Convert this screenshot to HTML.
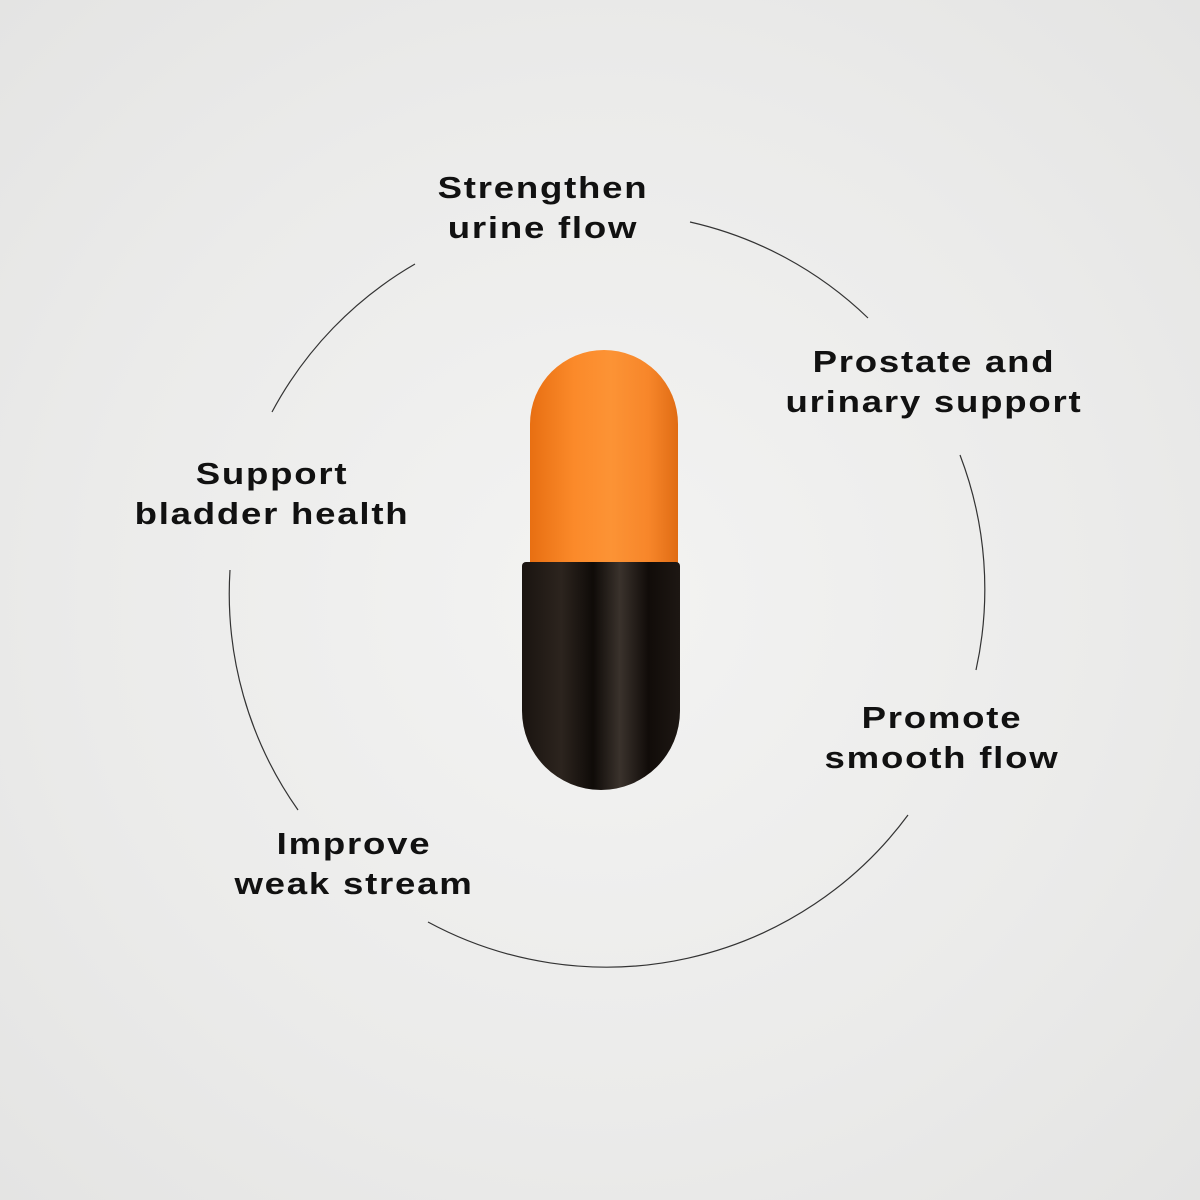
<!DOCTYPE html>
<html><head><meta charset="utf-8"><style>
html,body{margin:0;padding:0}
body{width:1200px;height:1200px;background:radial-gradient(circle at 600px 600px,#f3f3f2 0,#ebebea 60%,#e4e4e3 100%);position:relative;overflow:hidden;font-family:"Liberation Sans",sans-serif}
.t{position:absolute;font-weight:bold;font-size:31px;line-height:40px;color:#111;text-align:center;letter-spacing:1.5px;transform:translateX(-50%) scaleX(1.18);white-space:nowrap}
.orange{position:absolute;left:530px;top:350px;width:148px;height:230px;border-radius:74px 74px 6px 6px;background:linear-gradient(90deg,#e86f12 0%,#fb8a2a 30%,#fc9335 55%,#f7862a 80%,#e06c14 100%)}
.black{position:absolute;left:522px;top:562px;width:158px;height:228px;border-radius:4px 4px 79px 79px;background:linear-gradient(90deg,#1a1410 0%,#2c241e 25%,#0f0b08 45%,#3a322c 62%,#110c09 80%,#1d1713 100%)}
</style></head><body>
<svg width="1200" height="1200" style="position:absolute;left:0;top:0">
<g fill="none" stroke="#333" stroke-width="1.2">
<path d="M272 412 A375 375 0 0 1 415 264"/>
<path d="M690 222 A375 375 0 0 1 868 318"/>
<path d="M960 455 A375 375 0 0 1 976 670"/>
<path d="M908 815 A375 375 0 0 1 428 922"/>
<path d="M298 810 A375 375 0 0 1 230 570"/>
</g></svg>
<div class="orange"></div>
<div class="black"></div>
<div class="t" style="left:543px;top:168px">Strengthen<br>urine flow</div>
<div class="t" style="left:934px;top:342px">Prostate and<br>urinary support</div>
<div class="t" style="left:272px;top:454px">Support<br>bladder health</div>
<div class="t" style="left:942px;top:698px">Promote<br>smooth flow</div>
<div class="t" style="left:354px;top:824px">Improve<br>weak stream</div>
</body></html>
